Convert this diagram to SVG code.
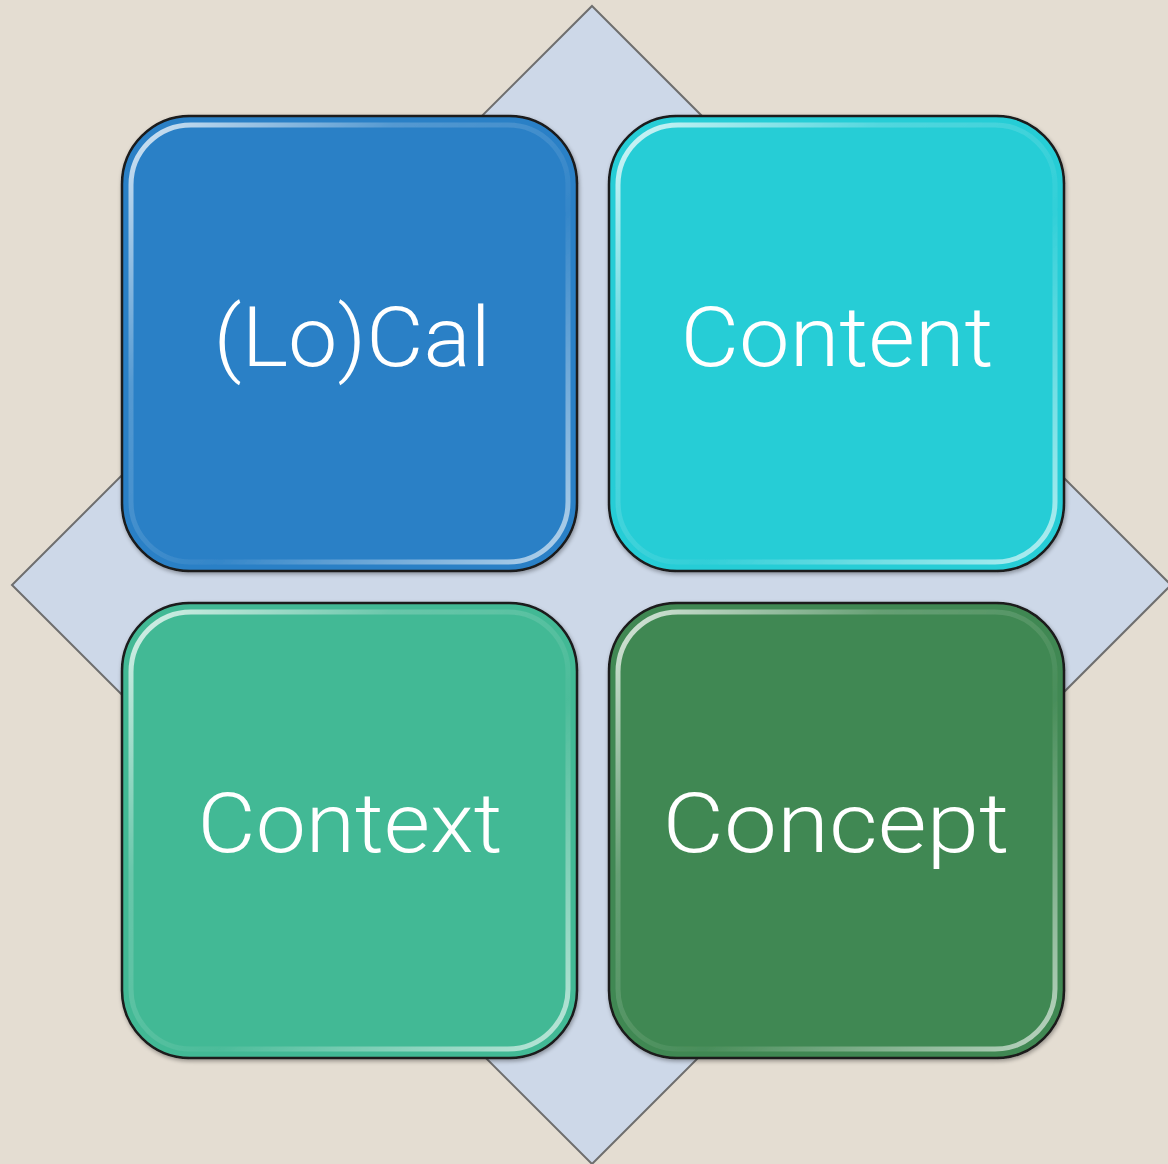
<svg xmlns="http://www.w3.org/2000/svg" width="1168" height="1164" viewBox="0 0 1168 1164">
<style>
.box{stroke:#1a1a1a;stroke-width:2.5}
.gl{fill:none;stroke-width:5}
.lbl{font-family:"Century Gothic","URW Gothic",Roboto,"Open Sans","DejaVu Sans",sans-serif;font-weight:300;font-size:84px;fill:#ffffff;text-anchor:middle}
</style>
<defs>
<linearGradient id="hl" x1="0" y1="0" x2="1" y2="1">
<stop offset="0" stop-color="#ffffff" stop-opacity="0.8"/>
<stop offset="0.3" stop-color="#ffffff" stop-opacity="0.2"/>
<stop offset="0.6" stop-color="#ffffff" stop-opacity="0.05"/>
<stop offset="1" stop-color="#ffffff" stop-opacity="0.65"/>
</linearGradient>
<filter id="sh" x="-5%" y="-5%" width="110%" height="110%">
<feGaussianBlur in="SourceAlpha" stdDeviation="2"/>
<feOffset dx="1" dy="2"/>
<feComponentTransfer><feFuncA type="linear" slope="0.35"/></feComponentTransfer>
<feMerge><feMergeNode/><feMergeNode in="SourceGraphic"/></feMerge>
</filter>
</defs>
<rect width="1168" height="1164" fill="#E4DDD2"/>
<g id="diamond">
<polygon points="592,6 1171,585 592,1164 12,585" fill="#CDD8E8" stroke="#6e6e6e" stroke-width="2"/>
</g>
<g id="node-local" filter="url(#sh)">
<rect class="box" x="122" y="116" width="455" height="455" rx="68" fill="#2A80C6"/>
<rect class="gl" x="131" y="125" width="437" height="437" rx="60" stroke="url(#hl)"/>
<text class="lbl" x="352" y="366" textLength="277" lengthAdjust="spacingAndGlyphs">(Lo)Cal</text>
</g>
<g id="node-content" filter="url(#sh)">
<rect class="box" x="609" y="116" width="455" height="455" rx="68" fill="#27CDD6"/>
<rect class="gl" x="618" y="125" width="437" height="437" rx="60" stroke="url(#hl)"/>
<text class="lbl" x="837" y="366" textLength="313" lengthAdjust="spacingAndGlyphs">Content</text>
</g>
<g id="node-context" filter="url(#sh)">
<rect class="box" x="122" y="603" width="455" height="455" rx="68" fill="#43B995"/>
<rect class="gl" x="131" y="612" width="437" height="437" rx="60" stroke="url(#hl)"/>
<text class="lbl" x="350" y="852" textLength="305" lengthAdjust="spacingAndGlyphs">Context</text>
</g>
<g id="node-concept" filter="url(#sh)">
<rect class="box" x="609" y="603" width="455" height="455" rx="68" fill="#408852"/>
<rect class="gl" x="618" y="612" width="437" height="437" rx="60" stroke="url(#hl)"/>
<text class="lbl" x="836" y="852" textLength="347" lengthAdjust="spacingAndGlyphs">Concept</text>
</g>
<g id="connectors"></g>
</svg>
